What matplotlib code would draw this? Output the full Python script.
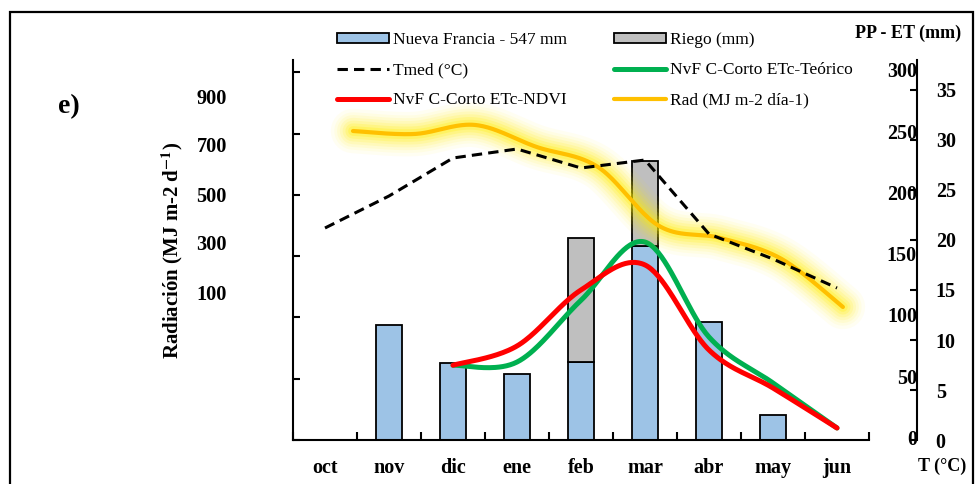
import numpy as np
import matplotlib
matplotlib.use("Agg")
import matplotlib.pyplot as plt
import matplotlib.transforms as mtransforms
from matplotlib.patches import Rectangle, Patch
from matplotlib.lines import Line2D

plt.rcParams['font.family'] = ['Liberation Serif', 'DejaVu Serif']
plt.rcParams['mathtext.fontset'] = 'stix'

# ---------------- data ----------------
months = ['oct', 'nov', 'dic', 'ene', 'feb', 'mar', 'abr', 'may', 'jun']
pp_mm = [0, 94, 63, 54, 64, 158, 96, 20, 0]          # Nueva Francia - 547 mm
riego_mm = [0, 0, 0, 0, 101, 70, 0, 0, 0]            # Riego (mm)
tmed_c = [21.2, 24.4, 28.2, 29.1, 27.2, 28.0, 20.6, 18.1, 15.2]
rad_mj = [30.9, 30.6, 31.5, 29.3, 27.3, 21.4, 20.2, 18.1, 13.3]
etc_teorico = [np.nan, np.nan, 61, 63.6, 114, 161.5, 84, 46.5, 9.8]
etc_ndvi = [np.nan, np.nan, 61, 76.7, 122.4, 142.8, 73.4, 42.4, 9.8]
pp_ticks = [0, 50, 100, 150, 200, 250, 300]
t_ticks = [0, 5, 10, 15, 20, 25, 30, 35]
rad_labels = [100, 300, 500, 700, 900]

W, H = 975, 484
def fx(px):
    return px / W
def fy(py):
    return 1 - py / H

def smooth(xs, ys, n=40):
    """Excel-like smoothed line (Catmull-Rom through the points)."""
    xs = np.asarray(xs, float); ys = np.asarray(ys, float)
    m = ~np.isnan(ys)
    P = np.column_stack([xs[m], ys[m]])
    Pp = np.vstack([P[0], P, P[-1]])
    out = []
    t = np.linspace(0, 1, n)[:, None]
    for i in range(1, len(Pp) - 2):
        p0, p1, p2, p3 = Pp[i - 1], Pp[i], Pp[i + 1], Pp[i + 2]
        c1 = p1 + (p2 - p0) / 6
        c2 = p2 - (p3 - p1) / 6
        seg = ((1 - t) ** 3) * p1 + 3 * ((1 - t) ** 2) * t * c1 + 3 * (1 - t) * t ** 2 * c2 + t ** 3 * p2
        out.append(seg)
    s = np.vstack(out)
    return s[:, 0], s[:, 1]

fig = plt.figure(figsize=(9.75, 4.84), dpi=100)

# outer frame
fig.patches.append(Rectangle((fx(10), -0.05), fx(973) - fx(10), fy(12) + 0.05,
                             transform=fig.transFigure, fill=False,
                             edgecolor='black', linewidth=1.6, clip_on=False))

rect = [fx(293), fy(440), fx(917) - fx(293), fy(60) - fy(440)]
ax = fig.add_axes(rect)
x = np.arange(len(months))
ax.set_xlim(-0.5, 9.25)
ax.set_ylim(0, 310)
ax.patch.set_visible(False)

blue = '#9DC3E6'
gray = '#BFBFBF'
bw = 0.4
b1 = ax.bar(x, pp_mm, width=bw, color=blue, edgecolor='black', linewidth=1.3, zorder=2)
rg = np.asarray(riego_mm, float)
sel = rg > 0
b2 = ax.bar(x[sel], rg[sel], bottom=np.asarray(pp_mm, float)[sel], width=bw, color=gray,
            edgecolor='black', linewidth=1.3, zorder=2)

sx, sy = smooth(x, etc_ndvi)
l_red, = ax.plot(sx, sy, color='#FF0000', lw=3.6, solid_capstyle='round', zorder=4)
sx, sy = smooth(x, etc_teorico)
l_green, = ax.plot(sx, sy, color='#00B050', lw=3.6, solid_capstyle='round', zorder=3)

for s in ['top', 'right']:
    ax.spines[s].set_visible(False)
ax.spines['left'].set_linewidth(1.5)
ax.spines['bottom'].set_linewidth(1.5)
ax.spines['bottom'].set_bounds(-0.5, 8.5)
ax.set_yticks(pp_ticks)
ax.tick_params(axis='y', direction='in', length=5, width=1.5, labelleft=False)
ax.set_xticks(x)
ax.set_xticklabels(months, fontsize=14.5, fontweight='bold')
ax.set_xticks(np.arange(-0.5, 9.0, 1.0), minor=True)
ax.tick_params(axis='x', which='major', length=0, pad=13)
ax.tick_params(axis='x', which='minor', direction='in', length=6, width=1.5)

trans = mtransforms.blended_transform_factory(ax.transAxes, ax.transData)
for v in pp_ticks:
    ax.text(1.0, v, str(v), transform=trans, ha='right', va='center',
            fontsize=14.4, fontweight='bold')

# radiation line (secondary series, own horizontal placement)
ax3 = fig.add_axes(rect)
ax3.set_xlim(-0.98, 9.21)
ax3.set_ylim(0, 38)
ax3.axis('off')
rx, ry = smooth(x, rad_mj)
for lw, a in [(32, 0.05), (27, 0.06), (23, 0.08), (19, 0.10), (15, 0.13), (11, 0.18), (7, 0.25)]:
    ax3.plot(rx, ry, color='#FFEE00', lw=lw, alpha=a, solid_capstyle='round')
l_rad, = ax3.plot(rx, ry, color='#FFC000', lw=3.0, solid_capstyle='round')

# temperature axis
ax2 = ax.twinx()
ax2.set_ylim(0, 38)
ax2.set_xlim(-0.5, 9.25)
l_t, = ax2.plot(x, tmed_c, color='black', lw=2.2, linestyle=(0, (3.4, 2.0)))
for s in ['top', 'left', 'bottom']:
    ax2.spines[s].set_visible(False)
ax2.spines['right'].set_linewidth(1.5)
ax2.set_yticks(t_ticks)
ax2.tick_params(axis='y', direction='in', length=5, width=1.5, pad=13.5,
                labelsize=14.4)
for lab in ax2.get_yticklabels():
    lab.set_fontweight('bold')

# floating radiation labels
axr = fig.add_axes([fx(240), fy(292), 0.001, fy(96) - fy(292)])
axr.set_ylim(100, 900)
axr.set_yticks(rad_labels)
axr.set_yticklabels([str(v) for v in rad_labels], fontsize=14.6, fontweight='bold')
axr.tick_params(axis='y', length=0, pad=9.5)
axr.set_xticks([])
for s in axr.spines.values():
    s.set_visible(False)
axr.patch.set_visible(False)

fig.text(fx(172), fy(250), r'Radiación (MJ m-2 d$^{\mathbf{-1}}$)', rotation=90,
         ha='center', va='center', fontsize=15, fontweight='bold')
fig.text(fx(69), fy(107), 'e)', ha='center', va='center', fontsize=20, fontweight='bold')
fig.text(fx(908), fy(33), 'PP - ET (mm)', ha='center', va='center', fontsize=13, fontweight='bold')
fig.text(fx(942), fy(466), 'T (°C)', ha='center', va='center', fontsize=13, fontweight='bold')

h_blue = Patch(facecolor=blue, edgecolor='black', linewidth=1.3)
h_gray = Patch(facecolor=gray, edgecolor='black', linewidth=1.3)
handles = [h_blue, l_t, l_red, h_gray, l_green, l_rad]
labels = ['Nueva Francia - 547 mm', 'Tmed (°C)', 'NvF C-Corto ETc-NDVI',
          'Riego (mm)', 'NvF C-Corto ETc-Teórico', 'Rad (MJ m-2 día-1)']
fig.legend(handles, labels, ncol=2, loc='upper left',
           bbox_to_anchor=(fx(337), fy(32)), frameon=False, fontsize=12.5,
           handlelength=3.0, handleheight=0.55, handletextpad=0.2,
           columnspacing=2.75, labelspacing=0.82, borderpad=0, borderaxespad=0)

fig.savefig('out.png', dpi=100)
